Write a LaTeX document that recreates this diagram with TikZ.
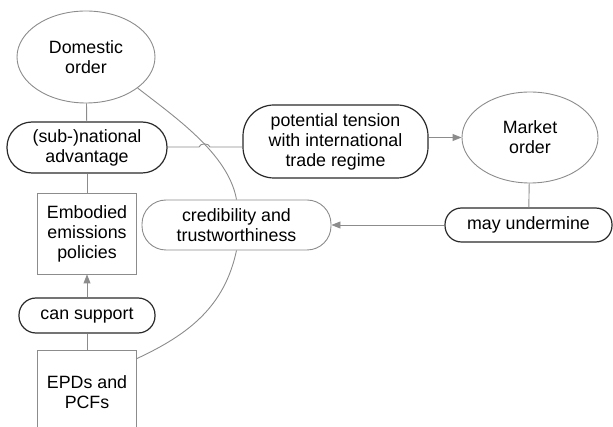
\documentclass[tikz,border=0pt]{standalone}
\usepackage{fontspec}
\setmainfont{Liberation Sans}
\usetikzlibrary{arrows.meta,shapes.geometric}
\definecolor{edgegray}{HTML}{8C8C8C}
\definecolor{pilldark}{HTML}{2A2A2A}
\tikzset{
  base/.style={align=center, inner sep=0pt, fill=white,
    font=\fontsize{17.8}{20}\selectfont},
  ell/.style={base, ellipse, draw=edgegray, line width=0.9pt},
  pill/.style={base, rectangle, draw=pilldark, line width=1.2pt},
  sq/.style={base, rectangle, draw=edgegray, line width=0.9pt},
  conn/.style={draw=edgegray, line width=0.9pt},
  arr/.style={conn, -{Triangle[length=9pt,width=7pt]}, edgegray},
}
\begin{document}
\begin{tikzpicture}[x=1pt,y=1pt]
\useasboundingbox (0,0) rectangle (613,-427);
\begin{scope}
\clip (0,0) rectangle (613,-427);

% nodes
\node[ell, minimum width=138pt, minimum height=92pt] (dom) at (86,-57) {Domestic\\order};
\node[pill, rounded corners=25pt, minimum width=160pt, minimum height=51pt] (sub) at (87,-147.5) {(sub-)national\\advantage};
\node[sq, minimum width=99pt, minimum height=81pt] (emb) at (87,-233.5) {Embodied\\emissions\\policies};
\node[pill, rounded corners=17pt, minimum width=136pt, minimum height=35pt] (cs) at (87,-315.5) {can support};
\node[sq, minimum width=99pt, minimum height=84pt] (epd) at (87,-392) {EPDs and\\PCFs};
\node[pill, rounded corners=31pt, minimum width=185pt, minimum height=73pt] (pot) at (335.5,-141.5) {potential tension\\with international\\trade regime};
\node[ell, minimum width=136pt, minimum height=91pt] (mkt) at (530,-137.5) {Market\\order};
\node[pill, rounded corners=16.5pt, minimum width=167pt, minimum height=34pt] (mu) at (528.5,-225) {may undermine};
\node[sq, rounded corners=24pt, minimum width=189pt, minimum height=50pt] (cred) at (236.5,-225) {credibility and\\trustworthiness};

% small hop where the horizontal link crosses the long curve
\coordinate (hopl) at (199,-147);
\coordinate (hopr) at (210,-147);

% connectors
\draw[conn] (dom.-31) to[out=-38,in=100,looseness=0.8] (cred.north);
\draw[conn] (cred.south) to[out=-102,in=25] ([yshift=-9pt]epd.north east);
\draw[conn] (dom) -- (sub);
\draw[conn] (sub) -- (emb);
\draw[arr] (cs) -- (emb);
\draw[conn] (epd) -- (cs);
\draw[conn] (sub.east |- hopl) -- (hopl) to[out=75,in=105] (hopr) -- (hopr -| pot.west);
\draw[arr] (pot.east |- mkt.west) -- (mkt.west);
\draw[conn] (mkt) -- (mu);
\draw[arr] (mu) -- (cred);
\end{scope}
\end{tikzpicture}
\end{document}
